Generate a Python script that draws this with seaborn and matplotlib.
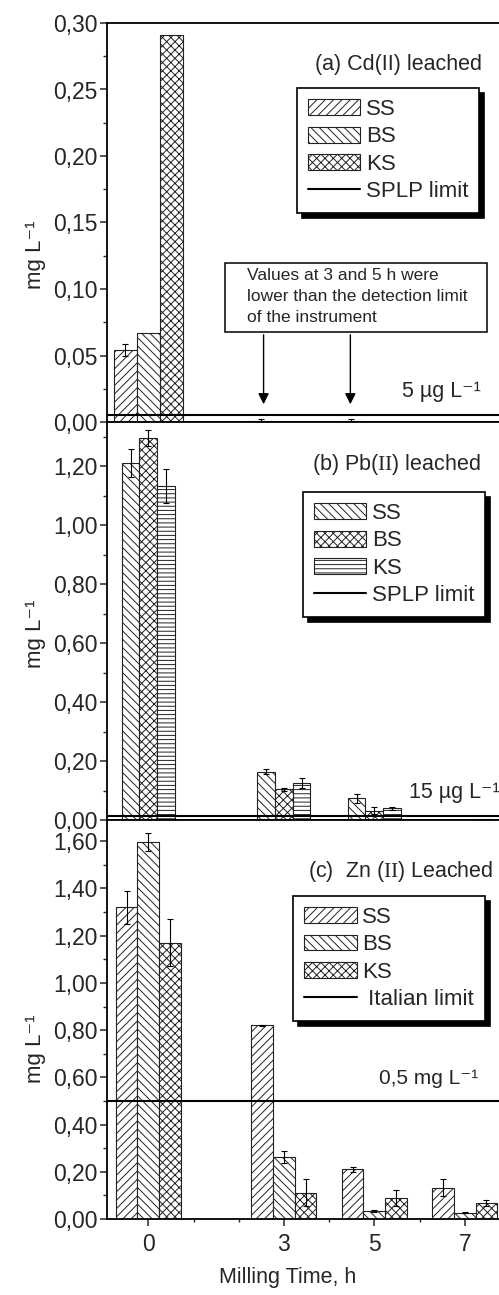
import numpy as np
import pandas as pd
import matplotlib
matplotlib.use("Agg")
import matplotlib.pyplot as plt
import matplotlib.patches as mpatches
from matplotlib.lines import Line2D
from matplotlib.ticker import FuncFormatter, MultipleLocator, FixedLocator
import seaborn as sns

# ---------------- data ----------------
times = [0, 3, 5, 7]
samples = ["SS", "BS", "KS"]

# (a) Cd(II) leached, mg/L
cd_ss = [0.054, 0.001, 0.001, 0.0]
cd_bs = [0.067, 0.0, 0.0, 0.0]
cd_ks = [0.291, 0.0, 0.0, 0.0]
cd_ss_err = [0.0045, 0.0015, 0.0015, 0.0]
cd_bs_err = [0.0, 0.0, 0.0, 0.0]
cd_ks_err = [0.0, 0.0, 0.0, 0.0]

# (b) Pb(II) leached, mg/L
pb_ss = [1.21, 0.164, 0.073, 0.0]
pb_bs = [1.297, 0.104, 0.032, 0.0]
pb_ks = [1.133, 0.124, 0.040, 0.005]
pb_ss_err = [0.047, 0.008, 0.015, 0.0]
pb_bs_err = [0.027, 0.006, 0.013, 0.0]
pb_ks_err = [0.058, 0.017, 0.005, 0.0]

# (c) Zn(II) leached, mg/L
zn_ss = [1.321, 0.82, 0.211, 0.133]
zn_bs = [1.597, 0.264, 0.035, 0.027]
zn_ks = [1.170, 0.112, 0.088, 0.067]
zn_ss_err = [0.07, 0.003, 0.011, 0.035]
zn_bs_err = [0.04, 0.026, 0.004, 0.002]
zn_ks_err = [0.10, 0.057, 0.035, 0.014]

limits = [0.005, 0.015, 0.5]
limit_names = ["SPLP limit", "SPLP limit", " Italian limit"]
limit_texts = ["5 µg L⁻¹", "15 µg L⁻¹", "0,5 mg L⁻¹"]
titles = ["(a) Cd(II) leached", r"(b) Pb($\mathtt{II}$) leached", r"(c)  Zn ($\mathtt{II}$) Leached"]
y_ticks_major = [0.05, 0.20, 0.20]
y_lims = [(0, 0.30), (0, 1.35), (0, 1.69)]
note_text = "Values at 3 and 5 h were\nlower than the detection limit\nof the instrument"

# ---------------- style ----------------
sns.set_style("ticks")
plt.rcParams["font.family"] = ["Liberation Sans", "DejaVu Sans"]
plt.rcParams["mathtext.fontset"] = "custom"
plt.rcParams["mathtext.rm"] = "Liberation Sans"
plt.rcParams["mathtext.it"] = "Liberation Sans:italic"
plt.rcParams["mathtext.bf"] = "Liberation Sans:bold"
plt.rcParams["mathtext.tt"] = "Liberation Serif"
plt.rcParams["hatch.linewidth"] = 0.7
plt.rcParams["axes.linewidth"] = 1.3

W, H = 499, 1295
fig = plt.figure(figsize=(W / 100, H / 100), dpi=100)

left = 107 / W
width = 403 / W
axes_px = [(23, 422), (422, 820), (820, 1219)]
axes = []
for top, bot in axes_px:
    ax = fig.add_axes([left, (H - bot) / H, width, (bot - top) / H])
    axes.append(ax)

panels = [
    (cd_ss, cd_bs, cd_ks, cd_ss_err, cd_bs_err, cd_ks_err),
    (pb_ss, pb_bs, pb_ks, pb_ss_err, pb_bs_err, pb_ks_err),
    (zn_ss, zn_bs, zn_ks, zn_ss_err, zn_bs_err, zn_ks_err),
]
hatch_sets = [
    ["////", "\\\\\\\\", "xxxx"],
    ["\\\\\\\\", "xxxx", "----"],
    ["////", "\\\\\\\\", "xxxx"],
]
bar_widths = [0.765, 0.585, 0.72]
legend_anchor = [(0.471, 0.837), (0.486, 0.824), (0.462, 0.8095)]
title_pos = [(0.930, 0.895), (0.928, 0.892), (0.958, 0.870)]
limit_text_pos = [(0.928, 0.077), (0.975, 0.070), (0.921, 0.353)]
limit_sizes = [15.5, 15.5, 15]
ylabel_y = [0.418, 0.468, 0.426]

fmt = FuncFormatter(lambda v, p: f"{v:.2f}".replace(".", ","))

for i, ax in enumerate(axes):
    ss, bs, ks, sse, bse, kse = panels[i]
    df = pd.DataFrame({
        "time": times * 3,
        "value": ss + bs + ks,
        "sample": ["SS"] * 4 + ["BS"] * 4 + ["KS"] * 4,
    })
    sns.barplot(data=df, x="time", y="value", hue="sample", hue_order=samples,
                native_scale=True, width=bar_widths[i], palette=["white"] * 3,
                saturation=1, edgecolor="#222222", linewidth=0.8,
                errorbar=None, legend=False, ax=ax)
    errs = [sse, bse, kse]
    vals = [ss, bs, ks]
    bar_conts = list(ax.containers)
    for k, cont in enumerate(bar_conts):
        xc = []
        for bar in cont:
            bar.set_hatch(hatch_sets[i][k])
            xc.append(bar.get_x() + bar.get_width() / 2)
        e = np.array(errs[k])
        v = np.array(vals[k])
        m = e > 0
        ax.errorbar(np.array(xc)[m], v[m], yerr=e[m], fmt="none", ecolor="black",
                    elinewidth=0.8, capsize=2.5, capthick=0.8, zorder=4)

    ax.axhline(limits[i], color="black", lw=1.5, zorder=5)

    ax.set_xlim(-0.914, -0.914 + 403 / 45.2)
    ax.set_ylim(*y_lims[i])
    ax.yaxis.set_major_locator(MultipleLocator(y_ticks_major[i]))
    ax.yaxis.set_minor_locator(MultipleLocator(y_ticks_major[i] / 2))
    ax.yaxis.set_major_formatter(fmt)
    ax.tick_params(axis="y", which="major", length=5, width=1.1, labelsize=16.5, pad=2, direction="out")
    ax.tick_params(axis="y", which="minor", length=3, width=1.0, direction="out")
    ax.set_ylabel("mg L⁻¹", fontsize=16)
    ax.yaxis.set_label_coords(-0.152, ylabel_y[i])
    ax.set_xlabel("")
    for s in ax.spines.values():
        s.set_visible(True)
        s.set_linewidth(1.3)
        s.set_color("black")

    if i < 2:
        ax.tick_params(axis="x", which="both", bottom=False, labelbottom=False)
    else:
        ax.set_xticks(times)
        ax.set_xticklabels([str(t) for t in times])
        ax.xaxis.set_minor_locator(FixedLocator([1, 2, 4, 6]))
        ax.tick_params(axis="x", which="major", length=5, width=1.1, labelsize=16.5, pad=5, direction="out")
        ax.tick_params(axis="x", which="minor", length=2.5, width=1.0, direction="out")
        ax.set_xlabel("Milling Time, h", fontsize=15.5)
        ax.xaxis.set_label_coords(0.449, -0.12)

    ax.text(*title_pos[i], titles[i], transform=ax.transAxes, ha="right", va="center", fontsize=15.5)
    ax.text(*limit_text_pos[i], limit_texts[i], transform=ax.transAxes, ha="right", va="center",
            fontsize=limit_sizes[i])

    handles = [mpatches.Patch(facecolor="white", edgecolor="#222222", hatch=h, linewidth=0.8)
               for h in hatch_sets[i]]
    handles.append(Line2D([], [], color="black", lw=1.5))
    leg = ax.legend(handles, samples + [limit_names[i]], loc="upper left",
                    bbox_to_anchor=legend_anchor[i], borderaxespad=0, fontsize=16,
                    frameon=True, fancybox=False, framealpha=1, edgecolor="black",
                    shadow={"ox": 3.5, "oy": -3.5, "color": "black", "alpha": 1},
                    handlelength=2.35, handleheight=0.72, handletextpad=0.25,
                    labelspacing=0.28, borderpad=0.5)
    leg.get_frame().set_linewidth(1.2)
    leg.set_zorder(6)

# note box with arrows in panel (a)
ax = axes[0]
ax.add_patch(mpatches.Rectangle((0.293, 0.2256), 0.65, 0.173, transform=ax.transAxes,
                                facecolor="white", edgecolor="black", lw=1.1, zorder=6))
ax.text(0.347, 0.387, note_text, transform=ax.transAxes, ha="left", va="top",
        fontsize=12.5, linespacing=1.5, zorder=7)
for xa in [2.55, 4.47]:
    ax.annotate("", xy=(xa, 0.0376), xytext=(xa, 0.2256),
                xycoords=("data", "axes fraction"), textcoords=("data", "axes fraction"),
                arrowprops=dict(arrowstyle="-|>", color="black", lw=1.0, mutation_scale=16),
                zorder=6)

fig.savefig("out.png", dpi=100)
